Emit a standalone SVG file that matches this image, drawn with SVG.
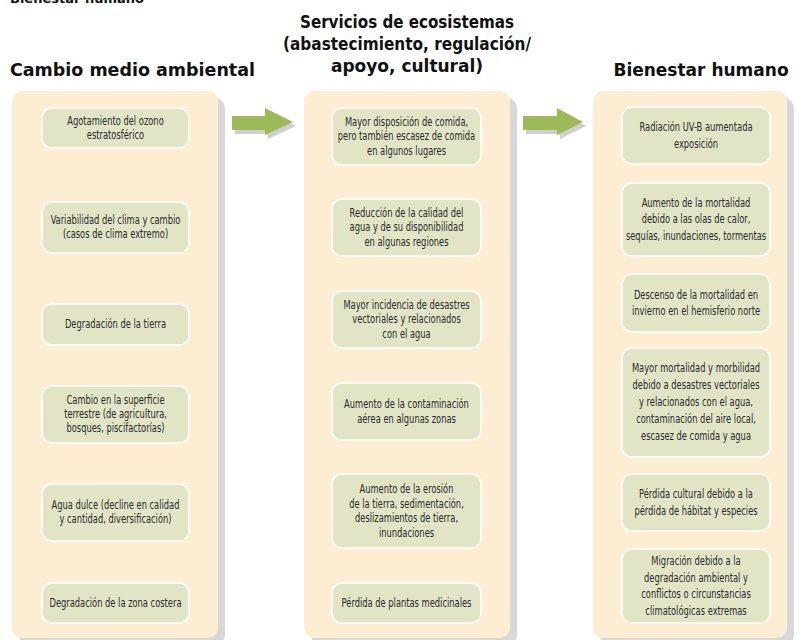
<svg xmlns="http://www.w3.org/2000/svg" width="797" height="640" viewBox="0 0 797 640">
<defs>
<style>
.bg{fill:#ffffff}
.panel{fill:#FDEED3}
.pshadow{fill:#D8D8DA}
.node rect{fill:#E1E5C6;stroke:#ffffff;stroke-width:1.5}
.node text{font-family:"DejaVu Sans Condensed","DejaVu Sans","Liberation Sans",sans-serif;font-stretch:condensed;font-size:12.5px;fill:#2a2a2a;text-anchor:middle}
.head{font-family:"DejaVu Sans",Verdana,sans-serif;font-weight:bold;font-size:17px;fill:#111111}
.arrow{fill:#9CBA58}
.ashadow{fill:#CFCFD3}
</style>
</defs>
<rect class="bg" x="0" y="0" width="797" height="640"/>
<text class="head" x="10" y="3" style="font-size:13px">Bienestar humano</text>
<g id="headings">
<text class="head" x="10" y="76" textLength="245" lengthAdjust="spacingAndGlyphs">Cambio medio ambiental</text>
<text class="head" x="407" y="28" text-anchor="middle" textLength="214" lengthAdjust="spacingAndGlyphs">Servicios de ecosistemas</text>
<text class="head" x="407" y="50" text-anchor="middle" textLength="248" lengthAdjust="spacingAndGlyphs">(abastecimiento, regulación/</text>
<text class="head" x="407" y="72" text-anchor="middle">apoyo, cultural)</text>
<text class="head" x="701" y="76" text-anchor="middle">Bienestar humano</text>
</g>
<g id="panels">
<rect class="pshadow" x="19" y="98" width="206" height="547" rx="10"/>
<rect class="panel" x="12" y="91" width="206" height="547" rx="10"/>
<rect class="pshadow" x="311" y="98" width="206" height="547" rx="10"/>
<rect class="panel" x="304" y="91" width="206" height="547" rx="10"/>
<rect class="pshadow" x="600" y="98" width="194" height="547" rx="10"/>
<rect class="panel" x="593" y="91" width="194" height="547" rx="10"/>
</g>
<g id="connectors">
<polygon class="ashadow" points="235,120 268,120 268,112 296,126 268,139 268,134 235,134"/>
<polygon class="arrow" points="232,116 265,116 265,108 293,122 265,135 265,130 232,130"/>
<polygon class="ashadow" points="526,120 560,120 560,112 586,126 560,139 560,134 526,134"/>
<polygon class="arrow" points="523,116 557,116 557,108 583,122 557,135 557,130 523,130"/>
</g>
<g id="n-l1" class="node"><rect x="42" y="108" width="147" height="40" rx="10"/><g transform="translate(115.5 0) scale(0.74 1)"><text x="0" y="125">Agotamiento del ozono</text><text x="0" y="139">estratosférico</text></g></g>
<g id="n-l2" class="node"><rect x="42" y="202" width="147" height="51" rx="10"/><g transform="translate(115.5 0) scale(0.74 1)"><text x="0" y="224.5">Variabilidad del clima y cambio</text><text x="0" y="238.5">(casos de clima extremo)</text></g></g>
<g id="n-l3" class="node"><rect x="42" y="304" width="147" height="41" rx="10"/><g transform="translate(115.5 0) scale(0.74 1)"><text x="0" y="328.5">Degradación de la tierra</text></g></g>
<g id="n-l4" class="node"><rect x="42" y="386" width="147" height="57" rx="10"/><g transform="translate(115.5 0) scale(0.74 1)"><text x="0" y="404.5">Cambio en la superficie</text><text x="0" y="418.5">terrestre (de agricultura,</text><text x="0" y="432.5">bosques, piscifactorías)</text></g></g>
<g id="n-l5" class="node"><rect x="42" y="484" width="147" height="57" rx="10"/><g transform="translate(115.5 0) scale(0.74 1)"><text x="0" y="509.5">Agua dulce (decline en calidad</text><text x="0" y="523.5">y cantidad, diversificación)</text></g></g>
<g id="n-l6" class="node"><rect x="42" y="583" width="147" height="40" rx="10"/><g transform="translate(115.5 0) scale(0.74 1)"><text x="0" y="607">Degradación de la zona costera</text></g></g>
<g id="n-m1" class="node"><rect x="332" y="108" width="149" height="57" rx="10"/><g transform="translate(406.5 0) scale(0.74 1)"><text x="0" y="126">Mayor disposición de comida,</text><text x="0" y="140.5">pero también escasez de comida</text><text x="0" y="155">en algunos lugares</text></g></g>
<g id="n-m2" class="node"><rect x="332" y="199" width="149" height="57" rx="10"/><g transform="translate(406.5 0) scale(0.74 1)"><text x="0" y="217">Reducción de la calidad del</text><text x="0" y="231.5">agua y de su disponibilidad</text><text x="0" y="246">en algunas regiones</text></g></g>
<g id="n-m3" class="node"><rect x="332" y="291" width="149" height="57" rx="10"/><g transform="translate(406.5 0) scale(0.74 1)"><text x="0" y="309">Mayor incidencia de desastres</text><text x="0" y="323.5">vectoriales y relacionados</text><text x="0" y="338">con el agua</text></g></g>
<g id="n-m4" class="node"><rect x="332" y="383" width="149" height="57" rx="10"/><g transform="translate(406.5 0) scale(0.74 1)"><text x="0" y="408.25">Aumento de la contaminación</text><text x="0" y="422.75">aérea en algunas zonas</text></g></g>
<g id="n-m5" class="node"><rect x="332" y="474" width="149" height="74" rx="10"/><g transform="translate(406.5 0) scale(0.74 1)"><text x="0" y="493.25">Aumento de la erosión</text><text x="0" y="507.75">de la tierra, sedimentación,</text><text x="0" y="522.25">deslizamientos de tierra,</text><text x="0" y="536.75">inundaciones</text></g></g>
<g id="n-m6" class="node"><rect x="332" y="583" width="149" height="40" rx="10"/><g transform="translate(406.5 0) scale(0.74 1)"><text x="0" y="607">Pérdida de plantas medicinales</text></g></g>
<g id="n-r1" class="node"><rect x="622" y="107" width="148" height="57" rx="10"/><g transform="translate(696 0) scale(0.74 1)"><text x="0" y="131.25">Radiación UV-B aumentada</text><text x="0" y="147.75">exposición</text></g></g>
<g id="n-r2" class="node"><rect x="622" y="183" width="148" height="73" rx="10"/><g transform="translate(696 0) scale(0.74 1)"><text x="0" y="207">Aumento de la mortalidad</text><text x="0" y="223.5">debido a las olas de calor,</text><text x="0" y="240">sequías, inundaciones, tormentas</text></g></g>
<g id="n-r3" class="node"><rect x="622" y="274" width="148" height="58" rx="10"/><g transform="translate(696 0) scale(0.74 1)"><text x="0" y="298.75">Descenso de la mortalidad en</text><text x="0" y="315.25">invierno en el hemisferio norte</text></g></g>
<g id="n-r4" class="node"><rect x="622" y="348" width="148" height="109" rx="10"/><g transform="translate(696 0) scale(0.74 1)"><text x="0" y="372.5">Mayor mortalidad y morbilidad</text><text x="0" y="389.5">debido a desastres vectoriales</text><text x="0" y="406.5">y relacionados con el agua,</text><text x="0" y="423.5">contaminación del aire local,</text><text x="0" y="440.5">escasez de comida y agua</text></g></g>
<g id="n-r5" class="node"><rect x="622" y="474" width="148" height="57" rx="10"/><g transform="translate(696 0) scale(0.74 1)"><text x="0" y="498.25">Pérdida cultural debido a la</text><text x="0" y="514.75">pérdida de hábitat y especies</text></g></g>
<g id="n-r6" class="node"><rect x="622" y="549" width="148" height="74" rx="10"/><g transform="translate(696 0) scale(0.74 1)"><text x="0" y="565.25">Migración debido a la</text><text x="0" y="581.75">degradación ambiental y</text><text x="0" y="598.25">conflictos o circunstancias</text><text x="0" y="614.75">climatológicas extremas</text></g></g>
</svg>
